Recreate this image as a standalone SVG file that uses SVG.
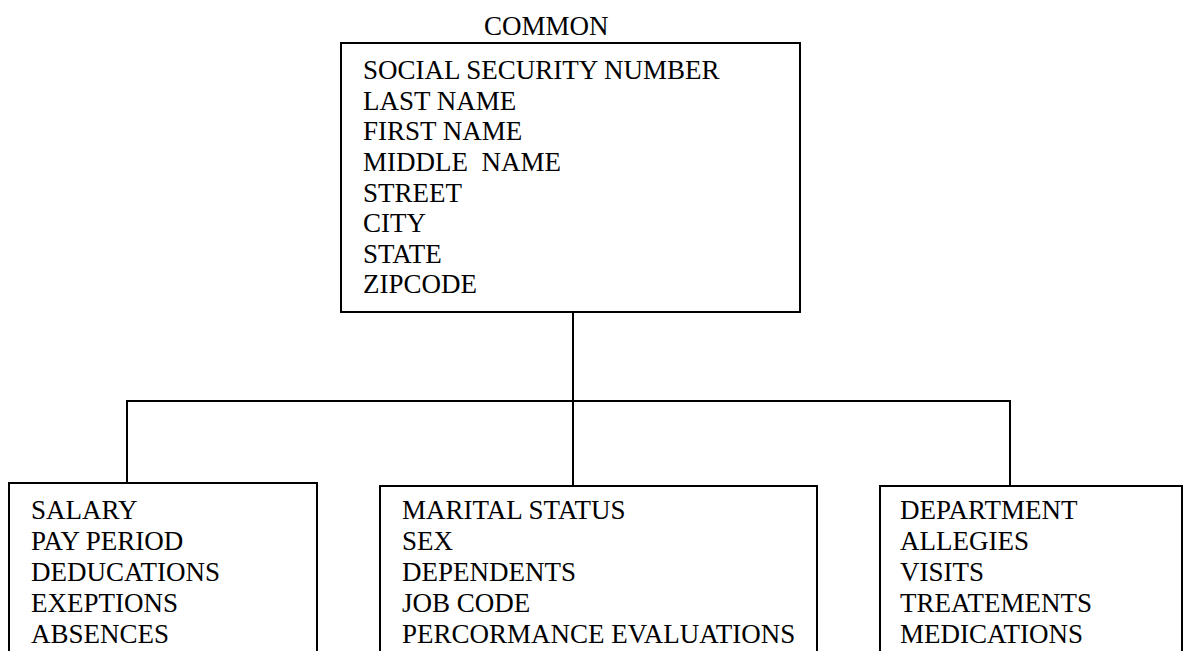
<svg xmlns="http://www.w3.org/2000/svg" width="1186" height="651" viewBox="0 0 1186 651">
  <style>
    .box { fill: #ffffff; stroke: #000000; stroke-width: 2; }
    .wire { fill: none; stroke: #000000; stroke-width: 2; }
    text { font-family: "Liberation Serif", "Times New Roman", serif; font-size: 27px; fill: #000000; white-space: pre; }
  </style>
  <rect width="1186" height="651" fill="#ffffff"/>

  <!-- tree connectors -->
  <g id="connectors">
    <path class="wire" d="M573 312 V486"/>
    <path class="wire" d="M127 483 V401 H1010 V486"/>
  </g>

  <!-- shared record fields -->
  <g id="common">
    <text x="484" y="35">COMMON</text>
    <rect class="box" x="341" y="43" width="459" height="269"/>
    <text x="363" y="79">SOCIAL SECURITY NUMBER</text>
    <text x="363" y="110">LAST NAME</text>
    <text x="363" y="140">FIRST NAME</text>
    <text x="363" y="171" xml:space="preserve">MIDDLE  NAME</text>
    <text x="363" y="202">STREET</text>
    <text x="363" y="232">CITY</text>
    <text x="363" y="263">STATE</text>
    <text x="363" y="293">ZIPCODE</text>
  </g>

  <!-- payroll fields -->
  <g id="payroll">
    <rect class="box" x="9" y="483" width="308" height="220"/>
    <text x="31" y="519">SALARY</text>
    <text x="31" y="550">PAY PERIOD</text>
    <text x="31" y="581">DEDUCATIONS</text>
    <text x="31" y="612">EXEPTIONS</text>
    <text x="31" y="643">ABSENCES</text>
  </g>

  <!-- personnel fields -->
  <g id="personnel">
    <rect class="box" x="380" y="486" width="437" height="220"/>
    <text x="402" y="519">MARITAL STATUS</text>
    <text x="402" y="550">SEX</text>
    <text x="402" y="581">DEPENDENTS</text>
    <text x="402" y="612">JOB CODE</text>
    <text x="402" y="643">PERCORMANCE EVALUATIONS</text>
  </g>

  <!-- medical fields -->
  <g id="medical">
    <rect class="box" x="880" y="486" width="302" height="220"/>
    <text x="900" y="519">DEPARTMENT</text>
    <text x="900" y="550">ALLEGIES</text>
    <text x="900" y="581">VISITS</text>
    <text x="900" y="612">TREATEMENTS</text>
    <text x="900" y="643">MEDICATIONS</text>
  </g>
</svg>
